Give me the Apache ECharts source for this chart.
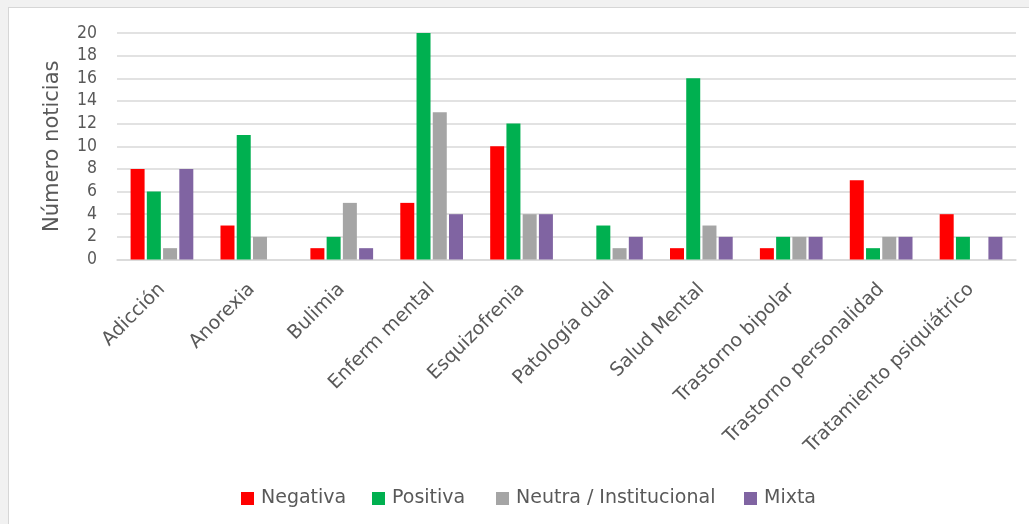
<!DOCTYPE html>
<html>
<head>
<meta charset="utf-8">
<script src="https://cdn.jsdelivr.net/npm/echarts@6/dist/echarts.min.js"></script>
<style>
html,body{margin:0;padding:0;width:1029px;height:524px;overflow:hidden;background:#f1f1f1;}
#frame{position:absolute;left:8px;top:7px;width:1025px;height:520px;background:#fff;border:1px solid #d6d6d6;}
#chart{position:absolute;left:0;top:0;width:1029px;height:524px;}
</style>
</head>
<body>
<div id="frame"></div>
<div id="chart"></div>
<script>
const categories = ["Adicción","Anorexia","Bulimia","Enferm mental","Esquizofrenia","Patología dual","Salud Mental","Trastorno bipolar","Trastorno personalidad","Tratamiento psiquiátrico"];
const negativa = [8,3,1,5,10,0,1,1,7,4];
const positiva = [6,11,2,20,12,3,16,2,1,2];
const neutra   = [1,2,5,13,4,1,3,2,2,0];
const mixta    = [8,0,1,4,4,2,2,2,2,2];
const seriesNames = ["Negativa","Positiva","Neutra / Institucional","Mixta"];
const yTicks = {min:0, max:20, interval:2};

const FONT_C = "'DejaVu Sans Condensed','DejaVu Sans',sans-serif";
const FONT = "'DejaVu Sans',sans-serif";
const TXT = '#595959';
const colors = ['#FF0000','#00B050','#A5A5A5','#8064A2'];
const dataSets = [negativa, positiva, neutra, mixta];
const legendLefts = [241, 372, 496, 744];

const chart = echarts.init(document.getElementById('chart'), null, {renderer:'canvas'});
chart.setOption({
  animation:false,
  backgroundColor:'transparent',
  color: colors,
  grid:{left:117, right:13, top:33, bottom:264.5, containLabel:false},
  legend: seriesNames.map((n,i)=>({
    left:legendLefts[i], top:489, padding:0,
    icon:'rect', itemWidth:13, itemHeight:13,
    textStyle:{color:TXT, fontFamily:FONT, fontSize:19, padding:[0,0,0,2]},
    data:[n]
  })),
  xAxis:{
    type:'category', data:categories,
    axisLine:{show:true, lineStyle:{color:'#d9d9d9', width:1.5}},
    axisTick:{show:false},
    axisLabel:{rotate:45, margin:27, interval:0, color:TXT, fontFamily:FONT, fontSize:19}
  },
  yAxis:{
    type:'value', min:yTicks.min, max:yTicks.max, interval:yTicks.interval,
    name:'Número noticias', nameLocation:'middle', nameGap:54,
    nameTextStyle:{color:TXT, fontFamily:FONT, fontSize:21},
    axisLine:{show:false}, axisTick:{show:false},
    axisLabel:{margin:20, color:TXT, fontFamily:FONT_C, fontSize:17.5},
    splitLine:{lineStyle:{color:'#d9d9d9', width:1.5}}
  },
  series: seriesNames.map((n,i)=>({
    name:n, type:'bar', data:dataSets[i],
    barWidth:14, barGap:'16%',
    itemStyle:{color:colors[i]}
  }))
});
</script>
</body>
</html>
